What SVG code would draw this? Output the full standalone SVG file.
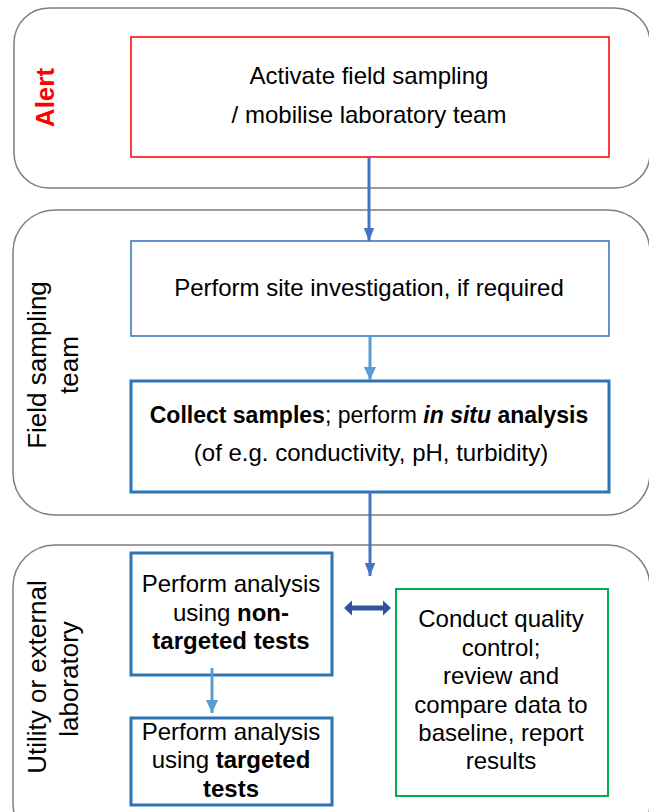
<svg xmlns="http://www.w3.org/2000/svg" width="649" height="812" viewBox="0 0 649 812">
<style>
.lane{fill:#fff;stroke:#7f7f7f;stroke-width:1.5}
.box{fill:#fff}
.t{font-family:"Liberation Sans",Arial,sans-serif;font-size:24px;fill:#000;text-anchor:middle}
.lbl{font-family:"Liberation Sans",Arial,sans-serif;font-size:26px;fill:#000;text-anchor:middle}
.b{font-weight:bold}
.bi{font-weight:bold;font-style:italic}
</style>
<defs>
<marker id="ad" viewBox="0 0 10 10" refX="10" refY="5" markerWidth="4.5" markerHeight="3.6" orient="auto" markerUnits="strokeWidth" preserveAspectRatio="none"><path d="M0,0 L10,5 L0,10 Z" fill="#4472c4"/></marker>
<marker id="al" viewBox="0 0 10 10" refX="10" refY="5" markerWidth="4.3" markerHeight="4" orient="auto" markerUnits="strokeWidth" preserveAspectRatio="none"><path d="M0,0 L10,5 L0,10 Z" fill="#5b9bd5"/></marker>
</defs>
<rect width="649" height="812" fill="#fff"/>

<g id="lane-alert">
<rect class="lane" x="14" y="8" width="636" height="180" rx="35" ry="35"/>
<text class="lbl b" transform="translate(54,97.5) rotate(-90)" fill="#ff0000" style="fill:#ff0000">Alert</text>
</g>
<g id="lane-field">
<rect class="lane" x="13" y="210" width="637" height="305" rx="42" ry="42"/>
<text class="lbl" transform="translate(45.5,365) rotate(-90)">Field sampling</text>
<text class="lbl" transform="translate(78,365) rotate(-90)">team</text>
</g>
<g id="lane-lab">
<rect class="lane" x="13" y="545" width="637" height="300" rx="42" ry="42"/>
<text class="lbl" transform="translate(45.5,677) rotate(-90)">Utility or external</text>
<text class="lbl" transform="translate(78,679) rotate(-90)">laboratory</text>
</g>

<g id="n-activate">
<rect class="box" x="131" y="37" width="478" height="120" stroke="#ff0000" stroke-width="1.5"/>
<text class="t" x="369" y="84">Activate field sampling</text>
<text class="t" x="369" y="123">/ mobilise laboratory team</text>
</g>
<g id="n-site">
<rect class="box" x="131" y="241" width="478" height="95" stroke="#2e75b6" stroke-width="1.5"/>
<text class="t" x="369" y="296">Perform site investigation, if required</text>
</g>
<g id="n-collect">
<rect class="box" x="131" y="381" width="478" height="111" stroke="#2e75b6" stroke-width="3"/>
<text class="t" x="369" y="423" style="font-size:23px"><tspan class="b">Collect samples</tspan>; perform <tspan class="bi">in situ</tspan><tspan class="b"> analysis</tspan></text>
<text class="t" x="371" y="461">(of e.g. conductivity, pH, turbidity)</text>
</g>
<g id="n-nontargeted">
<rect class="box" x="131" y="553" width="201" height="122" stroke="#2e75b6" stroke-width="3"/>
<text class="t" x="231" y="592">Perform analysis</text>
<text class="t" x="231" y="621">using <tspan class="b">non-</tspan></text>
<text class="t b" x="231" y="649">targeted tests</text>
</g>
<g id="n-targeted">
<rect class="box" x="131" y="718" width="201" height="87" stroke="#2e75b6" stroke-width="3"/>
<text class="t" x="231" y="740">Perform analysis</text>
<text class="t" x="231" y="768">using <tspan class="b">targeted</tspan></text>
<text class="t b" x="231" y="797">tests</text>
</g>
<g id="n-qc">
<rect class="box" x="396" y="589" width="212" height="207" stroke="#00b050" stroke-width="2"/>
<text class="t" x="501" y="627">Conduct quality</text>
<text class="t" x="501" y="656">control;</text>
<text class="t" x="501" y="684">review and</text>
<text class="t" x="501" y="713">compare data to</text>
<text class="t" x="501" y="741">baseline, report</text>
<text class="t" x="501" y="769">results</text>
</g>

<g id="connectors">
<line x1="369" y1="157" x2="369" y2="241" stroke="#4472c4" stroke-width="3" marker-end="url(#ad)"/>
<line x1="370" y1="336" x2="370" y2="380" stroke="#5b9bd5" stroke-width="3" marker-end="url(#al)"/>
<line x1="370" y1="492" x2="370" y2="576" stroke="#4472c4" stroke-width="3" marker-end="url(#ad)"/>
<line x1="212" y1="668" x2="212" y2="713" stroke="#5b9bd5" stroke-width="3" marker-end="url(#al)"/>
<path d="M344,608 L352,600.5 L352,605.5 L383,605.5 L383,600.5 L391,608 L383,615.5 L383,610.5 L352,610.5 L352,615.5 Z" fill="#2f5597"/>
</g>
</svg>
